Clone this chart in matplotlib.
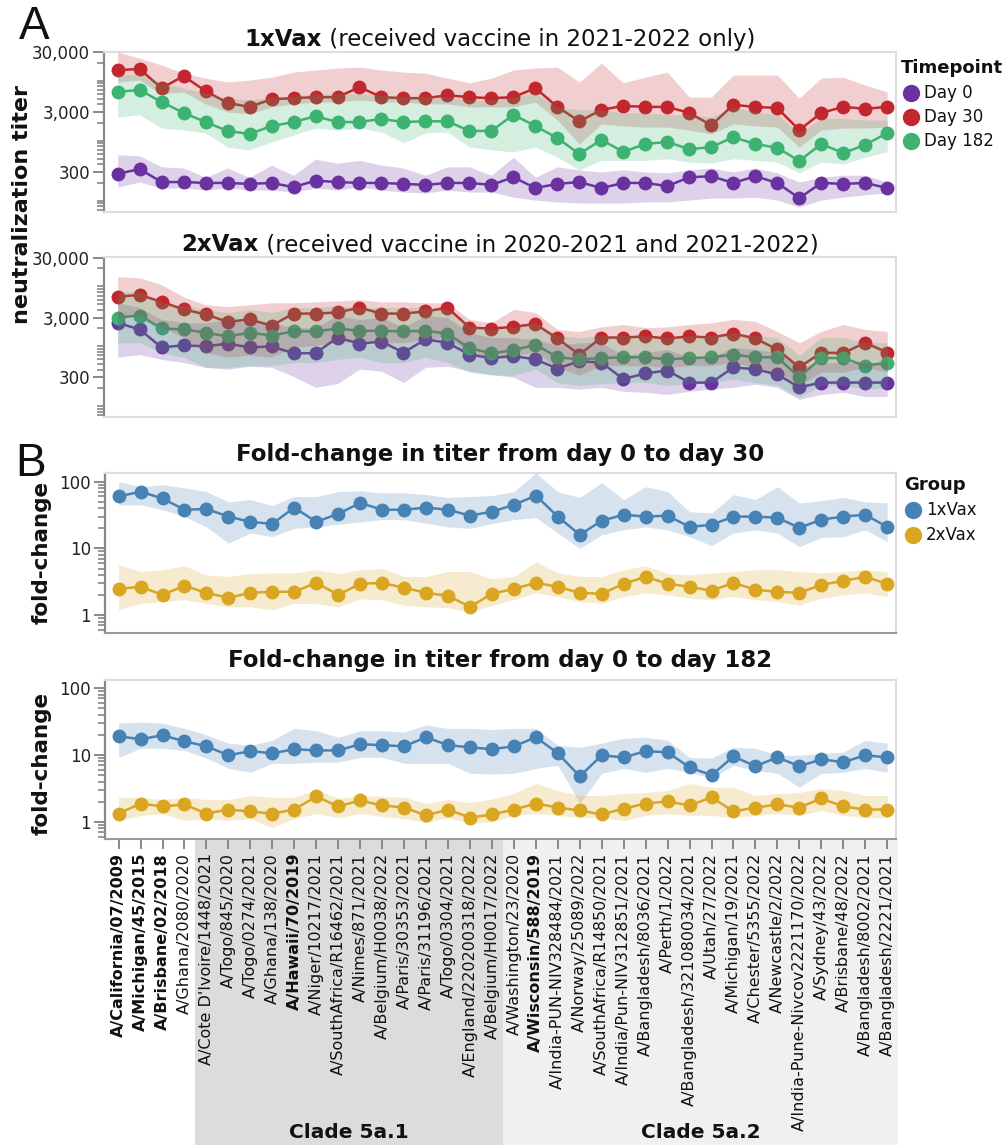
import numpy as np
import matplotlib
matplotlib.use("Agg")
import matplotlib.pyplot as plt
from matplotlib.lines import Line2D
from matplotlib.patches import Rectangle
from matplotlib import transforms
from matplotlib.ticker import FixedLocator, LogLocator, NullFormatter, FuncFormatter

plt.rcParams['font.family'] = ['DejaVu Sans']

# ---------------- data ----------------
strains = [
    "A/California/07/2009", "A/Michigan/45/2015", "A/Brisbane/02/2018", "A/Ghana/2080/2020",
    "A/Cote D'Ivoire/1448/2021", "A/Togo/845/2020", "A/Togo/0274/2021", "A/Ghana/138/2020",
    "A/Hawaii/70/2019", "A/Niger/10217/2021", "A/SouthAfrica/R16462/2021", "A/Nimes/871/2021",
    "A/Belgium/H0038/2022", "A/Paris/30353/2021", "A/Paris/31196/2021", "A/Togo/0304/2021",
    "A/England/220200318/2022", "A/Belgium/H0017/2022", "A/Washington/23/2020", "A/Wisconsin/588/2019",
    "A/India-PUN-NIV328484/2021", "A/Norway/25089/2022", "A/SouthAfrica/R14850/2021",
    "A/India/Pun-NIV312851/2021", "A/Bangladesh/8036/2021", "A/Perth/1/2022",
    "A/Bangladesh/321080034/2021", "A/Utah/27/2022", "A/Michigan/19/2021", "A/Chester/5355/2022",
    "A/Newcastle/2/2022", "A/India-Pune-Nivcov2221170/2022", "A/Sydney/43/2022", "A/Brisbane/48/2022",
    "A/Bangladesh/8002/2021", "A/Bangladesh/2221/2021",
]
bold_strains = ["A/California/07/2009", "A/Michigan/45/2015", "A/Brisbane/02/2018",
                "A/Hawaii/70/2019", "A/Wisconsin/588/2019"]
clade_names = ["Clade 5a.1", "Clade 5a.2"]
clade_first = ["A/Cote D'Ivoire/1448/2021", "A/Washington/23/2020"]
clade_last = ["A/Belgium/H0017/2022", "A/Bangladesh/2221/2021"]

# 1xVax titers
v1_d0 = [280, 335, 204, 204, 197, 197, 190, 197, 168, 215, 204, 197, 197, 190, 183, 197, 197, 183,
         245, 162, 190, 204, 162, 197, 197, 175, 245, 255, 197, 255, 197, 110, 197, 190, 197, 162]
v1_d0_lo = [168, 204, 162, 162, 150, 162, 150, 150, 139, 162, 150, 168, 150, 139, 134, 150, 139, 139,
            114, 102, 95, 91, 91, 91, 95, 95, 102, 110, 110, 114, 102, 78, 102, 114, 125, 134]
v1_d0_hi = [580, 560, 365, 350, 245, 350, 245, 390, 265, 490, 420, 470, 390, 350, 265, 365, 365, 265,
            530, 245, 365, 325, 300, 325, 300, 290, 325, 350, 300, 350, 290, 204, 245, 265, 265, 204]
v1_d30 = [15000, 15600, 7500, 11900, 6700, 4250, 3650, 4900, 5100, 5300, 5300, 7800, 5300, 5100, 5100, 5700, 5300, 5100,
          5300, 7500, 3650, 2100, 3250, 3800, 3650, 3650, 2900, 1800, 3950, 3650, 3500, 1500, 2900, 3650, 3400, 3650]
v1_d30_lo = [9500, 10200, 6000, 6500, 4100, 3000, 2800, 3650, 4100, 4400, 4400, 4750, 4400, 4400, 4100, 4100, 3650, 3650,
             3650, 4400, 2200, 880, 1900, 1760, 1680, 1680, 1500, 1290, 1900, 1760, 1680, 780, 1500, 1620, 1620, 1680]
v1_d30_hi = [30000, 23700, 18200, 13300, 11000, 9500, 10200, 11400, 13900, 15000, 16200, 16800, 15000, 13900, 13300, 11000, 9200, 11000,
             15000, 16200, 16800, 9500, 19600, 9200, 11400, 13900, 5300, 5300, 12400, 12400, 12400, 5100, 11000, 11400, 8400, 6500]
v1_d182 = [6500, 7000, 4400, 2900, 2040, 1450, 1290, 1750, 2040, 2550, 2040, 2040, 2300, 2040, 2100, 2100, 1450, 1450,
           2700, 1750, 1100, 600, 1030, 650, 880, 950, 720, 780, 1140, 880, 760, 460, 880, 620, 850, 1340]
v1_d182_lo = [2450, 2700, 1620, 1500, 1340, 780, 700, 950, 1240, 1620, 1500, 1620, 1390, 920, 1340, 1390, 780, 700,
              650, 780, 530, 325, 470, 470, 470, 500, 440, 420, 500, 470, 440, 290, 440, 410, 530, 650]
v1_d182_hi = [12400, 12900, 9200, 7500, 6200, 5100, 4750, 5300, 5500, 6000, 6000, 6000, 5700, 5500, 5500, 5300, 4750, 4750,
              5300, 6200, 3650, 3250, 3250, 2900, 2900, 2700, 2700, 2450, 3650, 3000, 2700, 1340, 2350, 2350, 2200, 2200]

# 2xVax titers
v2_d0 = [2450, 1900, 950, 1030, 990, 1100, 950, 990, 760, 760, 1390, 1100, 1190, 780, 1290, 1140, 720, 630,
         680, 600, 420, 560, 530, 280, 350, 390, 245, 245, 440, 410, 335, 204, 245, 245, 245, 245]
v2_d0_lo = [650, 720, 600, 530, 440, 410, 460, 440, 310, 204, 235, 410, 380, 245, 440, 460, 380, 335,
            300, 204, 204, 190, 204, 175, 168, 155, 175, 190, 204, 230, 204, 128, 155, 168, 143, 143]
v2_d0_hi = [5300, 4400, 2800, 2450, 2450, 2800, 2450, 2450, 2040, 2040, 3250, 2800, 3000, 2040, 3250, 3000, 1680, 1390,
            1390, 1290, 1030, 1140, 1140, 700, 780, 880, 650, 650, 950, 880, 780, 440, 530, 530, 530, 530]
v2_d30 = [6700, 7200, 5500, 4100, 3400, 2550, 2800, 2200, 3500, 3500, 3650, 4400, 3500, 3500, 3800, 4400, 2040, 1960,
          2100, 2350, 1340, 720, 1390, 1390, 1450, 1340, 1450, 1390, 1620, 1340, 880, 440, 780, 760, 1140, 780]
v2_d30_lo = [3000, 3250, 2040, 1390, 780, 650, 700, 650, 950, 1030, 1140, 1290, 1140, 1140, 1290, 1390, 780, 650,
             700, 780, 440, 325, 470, 470, 470, 440, 470, 470, 530, 440, 365, 220, 365, 365, 440, 365]
v2_d30_hi = [14500, 13900, 10600, 6700, 4900, 4600, 4900, 5300, 5300, 5500, 5700, 6000, 5500, 5500, 5300, 5300, 2800, 2450,
             4100, 3650, 1900, 1760, 2100, 2300, 2040, 2100, 2300, 2450, 2800, 2600, 1760, 1140, 1760, 2300, 1900, 1760]
v2_d182 = [3000, 3250, 1970, 1900, 1680, 1450, 1680, 1500, 1760, 1760, 1970, 1800, 1800, 1760, 1800, 1620, 920, 760,
           850, 1060, 650, 600, 630, 650, 650, 600, 630, 650, 720, 650, 650, 300, 630, 630, 470, 530]
v2_d182_lo = [1140, 1140, 780, 650, 440, 440, 470, 470, 530, 530, 600, 650, 530, 530, 650, 530, 365, 325,
              325, 410, 245, 220, 235, 245, 245, 220, 235, 245, 280, 245, 220, 139, 220, 220, 190, 204]
v2_d182_hi = [7800, 8400, 5300, 4750, 4100, 3650, 4100, 3650, 4400, 4400, 4750, 4400, 4400, 4400, 4400, 4100, 2200, 1900,
              2040, 2450, 1500, 1390, 1500, 1500, 1500, 1390, 1500, 1500, 1680, 1500, 1390, 700, 1390, 1390, 1140, 1140]

# fold-change day 0 -> day 30
fc30_1x = [60, 71, 56, 38, 39, 30, 25, 23.4, 41, 25, 33, 48, 38, 38, 41, 38, 31, 35.5,
           45, 62, 30, 16, 26, 32, 30, 31, 21, 22.6, 30, 30, 28.8, 20.4, 27, 30, 32, 21]
fc30_1x_lo = [45, 45, 38, 30, 21, 12, 17, 15, 20, 21, 23, 25, 27, 27, 24, 21, 20, 23.5,
              27, 29, 17, 10, 16, 19, 21, 19, 15, 11, 17, 19, 17, 10.6, 14.5, 15, 19, 12.5]
fc30_1x_hi = [100, 84, 90, 81, 71, 50, 54, 44, 60, 60, 71, 73, 68, 68, 64, 58, 60, 62,
              71, 136, 71, 58, 97, 54, 84, 71, 35.5, 34, 64, 54, 84, 48, 52, 58, 50, 48]
fc30_2x = [2.48, 2.66, 2.02, 2.75, 2.16, 1.82, 2.16, 2.24, 2.24, 3.05, 2.02, 2.95, 3.05, 2.57, 2.16, 1.95, 1.33, 2.09,
           2.48, 3.05, 2.66, 2.16, 2.09, 2.95, 3.76, 2.95, 2.66, 2.32, 3.05, 2.4, 2.24, 2.16, 2.85, 3.27, 3.76, 2.95]
fc30_2x_lo = [1.2, 1.5, 1.6, 1.7, 1.5, 1.33, 1.33, 1.2, 1.5, 1.5, 1.33, 1.75, 1.7, 1.4, 1.33, 1.3, 1.1, 1.4,
              1.7, 2.16, 1.9, 1.6, 1.5, 1.9, 2.16, 2.0, 1.8, 1.7, 1.9, 1.7, 1.6, 1.4, 1.8, 2.0, 2.16, 1.9]
fc30_2x_hi = [5.7, 4.5, 4.8, 5.5, 4.0, 3.8, 4.2, 4.3, 4.3, 4.8, 4.2, 4.8, 5.0, 3.8, 3.8, 4.5, 4.5, 3.5,
              3.8, 6.3, 4.3, 3.8, 3.8, 4.8, 5.5, 4.2, 4.0, 4.3, 4.5, 4.8, 4.8, 4.5, 4.3, 4.5, 4.8, 4.5]

# fold-change day 0 -> day 182
fc182_1x = [19, 17.2, 19.7, 16, 13.5, 9.9, 11.4, 10.6, 12.2, 11.7, 11.7, 14.5, 14, 13.5, 18.4, 14, 13, 12.2,
            13.5, 18.4, 10.6, 4.8, 9.9, 9.2, 11.4, 11, 6.5, 5.0, 9.5, 6.8, 9.2, 6.8, 8.6, 7.8, 9.9, 9.2]
fc182_1x_lo = [9.2, 12.6, 12.6, 11.7, 9, 6.3, 5.5, 7.5, 7.5, 7.8, 7.8, 9.2, 9.2, 7.5, 7.5, 7.5, 5.3, 5.2,
               5.3, 6.3, 7, 1.9, 5.3, 6.3, 5.5, 6.3, 5.5, 4.5, 7, 5.9, 5.3, 3.3, 5.3, 5.5, 6.3, 5.5]
fc182_1x_hi = [30, 31, 30, 25, 20, 15, 14, 16.6, 25, 23, 18.4, 23, 23, 22, 28, 25, 25, 24,
               25, 25, 14, 13, 15, 17.8, 18.4, 16.6, 9.2, 9, 13, 12.6, 9.9, 9.9, 10.6, 11, 16.6, 15]
fc182_2x = [1.33, 1.88, 1.70, 1.82, 1.33, 1.53, 1.43, 1.33, 1.53, 2.4, 1.70, 2.09, 1.76, 1.64, 1.25, 1.53, 1.16, 1.29,
            1.53, 1.88, 1.64, 1.48, 1.29, 1.58, 1.88, 2.02, 1.76, 2.33, 1.43, 1.64, 1.82, 1.64, 2.24, 1.70, 1.53, 1.53]
fc182_2x_lo = [1.05, 1.25, 1.33, 1.05, 1.12, 1.05, 1.12, 0.82, 1.12, 1.33, 1.16, 1.33, 1.2, 1.12, 0.98, 1.16, 0.95, 1.0,
               1.25, 1.33, 1.25, 1.16, 1.16, 1.05, 1.25, 1.33, 1.25, 1.25, 1.16, 1.25, 1.33, 1.25, 1.48, 1.25, 1.16, 1.16]
fc182_2x_hi = [2.33, 2.33, 2.16, 2.33, 2.16, 2.16, 2.48, 2.33, 2.33, 3.05, 2.24, 2.48, 2.4, 2.33, 1.88, 2.16, 1.95, 2.2,
               2.66, 3.76, 2.95, 2.48, 2.48, 2.66, 2.75, 2.95, 3.76, 3.3, 3.3, 2.48, 2.66, 2.75, 3.16, 2.95, 2.48, 2.48]

timepoints = ["Day 0", "Day 30", "Day 182"]
groups = ["1xVax", "2xVax"]

# ---------------- style ----------------
C_TP = {"Day 0": "#6a32a0", "Day 30": "#c1272d", "Day 182": "#3cb371"}
C_GR = {"1xVax": "#4682b4", "2xVax": "#daa520"}
BAND_ALPHA = 0.22

W, H = 1006, 1145
fig = plt.figure(figsize=(W / 100, H / 100), dpi=100)


def add_ax(left, top, right, bottom):
    return fig.add_axes([left / W, 1 - bottom / H, (right - left) / W, (bottom - top) / H])


ax1 = add_ax(104, 52, 896, 212)
ax2 = add_ax(104, 257, 896, 417)
ax3 = add_ax(105, 473, 896, 633)
ax4 = add_ax(105, 680, 896, 839)

x = np.arange(len(strains))
XLIM = (-0.62, 35.4)


def style(ax, ylim, majors, bottom_dark):
    ax.set_yscale('log')
    ax.set_xlim(*XLIM)
    ax.set_ylim(*ylim)
    ax.yaxis.set_major_locator(FixedLocator(majors))
    ax.yaxis.set_major_formatter(FuncFormatter(lambda v, p: f"{int(round(v)):,}"))
    ax.yaxis.set_minor_locator(LogLocator(base=10, subs=np.arange(1, 10), numticks=50))
    ax.yaxis.set_minor_formatter(NullFormatter())
    ax.tick_params(axis='y', which='major', length=8, width=1.4, color='#888888',
                   labelsize=12, labelcolor='#222222', pad=2)
    ax.tick_params(axis='y', which='minor', length=5, width=1.2, color='#888888')
    for s in ['top', 'right']:
        ax.spines[s].set_color('#dddddd')
        ax.spines[s].set_linewidth(1.5)
    ax.spines['left'].set_color('#888888')
    ax.spines['left'].set_linewidth(1.6)
    ax.spines['bottom'].set_color('#999999' if bottom_dark else '#dddddd')
    ax.spines['bottom'].set_linewidth(1.5)
    ax.set_xticks([])


def draw(ax, series, colors):
    for (med, lo, hi), c in zip(series, colors):
        ax.plot(x, med, '-', color=c, lw=1.8, marker='o', ms=10, mew=0, zorder=2)
    for (med, lo, hi), c in zip(series, colors):
        ax.fill_between(x, lo, hi, color=c, alpha=BAND_ALPHA, lw=0, zorder=3)


draw(ax1, [(v1_d0, v1_d0_lo, v1_d0_hi), (v1_d30, v1_d30_lo, v1_d30_hi), (v1_d182, v1_d182_lo, v1_d182_hi)],
     [C_TP[t] for t in timepoints])
draw(ax2, [(v2_d0, v2_d0_lo, v2_d0_hi), (v2_d30, v2_d30_lo, v2_d30_hi), (v2_d182, v2_d182_lo, v2_d182_hi)],
     [C_TP[t] for t in timepoints])
draw(ax3, [(fc30_1x, fc30_1x_lo, fc30_1x_hi), (fc30_2x, fc30_2x_lo, fc30_2x_hi)],
     [C_GR[g] for g in groups])
draw(ax4, [(fc182_1x, fc182_1x_lo, fc182_1x_hi), (fc182_2x, fc182_2x_lo, fc182_2x_hi)],
     [C_GR[g] for g in groups])

style(ax1, (64.6, 30000), [300, 3000, 30000], False)
style(ax2, (65, 31000), [300, 3000, 30000], False)
style(ax3, (0.54, 135), [1, 10, 100], True)
style(ax4, (0.555, 132), [1, 10, 100], True)

# x tick labels on the last panel
ax4.set_xticks(x)
ax4.set_xticklabels(strains, rotation=90, fontsize=11.5, color='#111111')
ax4.tick_params(axis='x', length=7, width=1.4, color='#888888', pad=3)
for lbl in ax4.get_xticklabels():
    if lbl.get_text() in bold_strains:
        lbl.set_fontweight('bold')

# clade shading below the axis
trans = transforms.blended_transform_factory(ax4.transData, fig.transFigure)
ybot = 1 - 840 / H
for name, first, last, col in zip(clade_names, clade_first, clade_last, ['#dcdcdc', '#f0f0f0']):
    i0 = strains.index(first) - 0.5
    i1 = strains.index(last) + 0.5
    ax4.add_artist(Rectangle((i0, 0), i1 - i0, ybot, transform=trans, facecolor=col,
                             edgecolor='none', clip_on=False, zorder=0))
    ax4.text((i0 + i1) / 2, 1 - 1132 / H, name, transform=trans, ha='center', va='center',
             fontsize=14.5, fontweight='bold', color='#111111')

# titles
TS = 16.5
title_parts = [
    (46, [("1xVax", 'bold'), (" (received vaccine in 2021-2022 only)", 'normal')]),
    (251, [("2xVax", 'bold'), (" (received vaccine in 2020-2021 and 2021-2022)", 'normal')]),
    (461, [("Fold-change in titer from day 0 to day 30", 'bold')]),
    (667, [("Fold-change in titer from day 0 to day 182", 'bold')]),
]
title_texts = []
for yb, parts in title_parts:
    ts = []
    for s, w in parts:
        ts.append(fig.text(0, 1 - yb / H, s, fontsize=TS, fontweight=w, ha='left', va='baseline',
                           color='#111111'))
    title_texts.append(ts)

# axis labels
fig.text(22 / W, 1 - 204 / H, "neutralization titer", rotation=90, ha='center', va='center',
         fontsize=16, fontweight='bold', color='#111111')
fig.text(42 / W, 1 - 552 / H, "fold-change", rotation=90, ha='center', va='center',
         fontsize=15.5, fontweight='bold', color='#111111')
fig.text(42 / W, 1 - 763 / H, "fold-change", rotation=90, ha='center', va='center',
         fontsize=15.5, fontweight='bold', color='#111111')

# panel letters
fig.text(34 / W, 1 - 27 / H, "A", ha='center', va='center', fontsize=33,
         family=['Liberation Sans', 'DejaVu Sans'], color='#111111')
fig.text(31 / W, 1 - 464 / H, "B", ha='center', va='center', fontsize=33,
         family=['Liberation Sans', 'DejaVu Sans'], color='#111111')


# legends
def legend(tx, ty, title, labels, colors, mx, lx, step):
    fig.text(tx / W, 1 - ty / H, title, fontsize=13, fontweight='bold', ha='left', va='center',
             color='#111111')
    for i, (lab, c) in enumerate(zip(labels, colors)):
        y = ty + step * (i + 1)
        fig.add_artist(Line2D([mx / W], [1 - y / H], marker='o', ms=12.5, color=c, mew=0, ls='none',
                              transform=fig.transFigure))
        fig.text(lx / W, 1 - y / H, lab, fontsize=12, ha='left', va='center', color='#111111')


legend(901, 68, "Timepoint", timepoints, [C_TP[t] for t in timepoints], 911, 924, 24.5)
legend(904, 485, "Group", groups, [C_GR[g] for g in groups], 913, 926, 25)

# center the (mixed-weight) titles over the plots
fig.canvas.draw()
r = fig.canvas.get_renderer()
xc = 500
for ts in title_texts:
    widths = [t.get_window_extent(r).width for t in ts]
    x0 = xc - sum(widths) / 2
    for t, w in zip(ts, widths):
        t.set_x(x0 / W)
        x0 += w

fig.savefig("out.png", dpi=100)
